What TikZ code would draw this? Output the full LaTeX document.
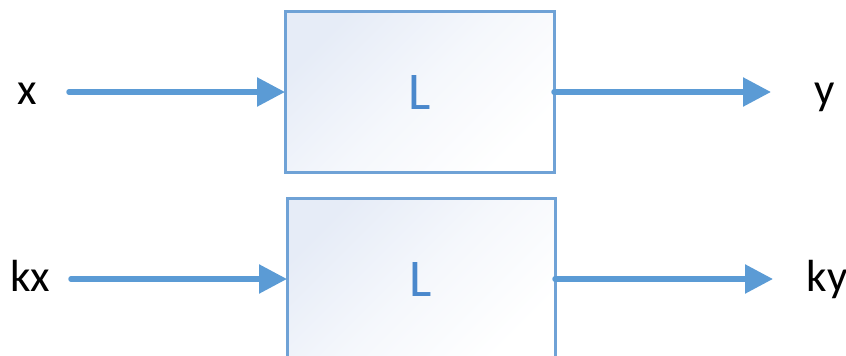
\documentclass[tikz,border=0pt]{standalone}
\usepackage{fontspec}
\setmainfont{Carlito}
\usetikzlibrary{arrows.meta}
\definecolor{arrblue}{HTML}{5B9BD5}
\definecolor{boxline}{HTML}{6FA2D6}
\definecolor{boxfill}{HTML}{E6ECF7}
\definecolor{lblue}{HTML}{4A88CC}
\tikzset{
  box/.style={draw=boxline, line width=3pt, shading=axis, top color=boxfill, bottom color=white, middle color=boxfill!40!white, shading angle=45,
    minimum width=269pt, minimum height=161pt, inner sep=0pt, outer sep=0pt,
    font=\fontsize{53}{62}\selectfont, text=lblue},
  arr/.style={draw=arrblue, line width=5.5pt, line cap=round, -{Triangle[length=28pt,width=28pt]}},
  lbl/.style={anchor=base, inner sep=0pt, font=\fontsize{45}{54}\selectfont, text=black}
}
\begin{document}
\begin{tikzpicture}[x=1pt,y=-1pt]
\useasboundingbox (0,0) rectangle (846,356);
\node[box] (b1) at (419.5,92) {L};
\node[box, minimum width=268pt, minimum height=162pt] (b2) at (421,279) {L};
\coordinate (xin) at (69,92);
\coordinate (yout) at (771,92);
\coordinate (kxin) at (71,279);
\coordinate (kyout) at (773,279);
\node[lbl] (lx) at (27,104) {x};
\node[lbl] (ly) at (825,104) {y};
\node[lbl] (lkx) at (30,291) {kx};
\node[lbl] (lky) at (827,291) {ky};
\draw[arr] (xin) -- (b1.west);
\draw[arr] (b1.east) -- (yout);
\draw[arr] (kxin) -- (b2.west);
\draw[arr] (b2.east) -- (kyout);
\end{tikzpicture}
\end{document}
